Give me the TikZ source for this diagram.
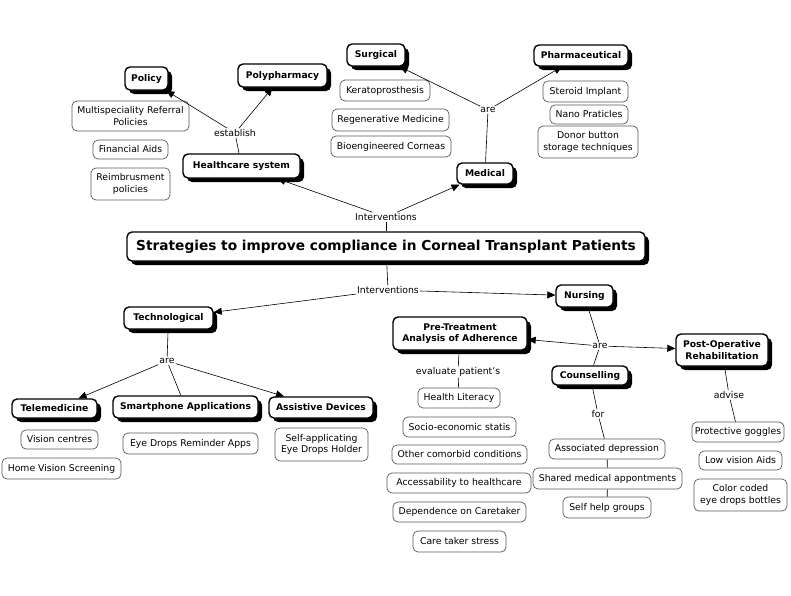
\documentclass[tikz,border=0pt]{standalone}
\usepackage{fontspec}
\setmainfont{DejaVu Sans}
\usetikzlibrary{arrows.meta,shadows}
\tikzset{
  sz/.style 2 args={minimum width=#1pt, minimum height=#2pt},
  concept/.style={draw=black, line width=1.4pt, rounded corners=5pt, fill=white,
    font=\bfseries\fontsize{9.2}{11.5}\selectfont, align=center, inner sep=2pt,
    drop shadow={shadow xshift=4pt, shadow yshift=-4pt, fill=black, opacity=1}},
  title/.style={concept, font=\bfseries\fontsize{13.7}{16}\selectfont},
  item/.style={draw=black!65, line width=0.7pt, rounded corners=5pt, fill=white,
    font=\fontsize{9.3}{11.5}\selectfont, align=center, inner sep=2pt},
  lbl/.style={fill=white, font=\fontsize{9.3}{11.5}\selectfont, inner sep=1pt},
  link/.style={draw=black, line width=0.6pt},
  arr/.style={link, -{Triangle[length=8pt,width=7pt]}}
}
\begin{document}
\begin{tikzpicture}[x=1pt,y=-1pt]
\fill[white] (0,0) rectangle (791,595);
\useasboundingbox (0,0) rectangle (791,595);

% top-left cluster
\node[concept, sz={43}{23}] (policy) at (146.5,78.5) {Policy};
\node[concept, sz={89}{23}] (poly) at (282.5,75.5) {Polypharmacy};
\node[item, sz={117}{30}] (multi) at (130.5,116) {Multispeciality Referral\\Policies};
\node[item, sz={75}{19}] (fin) at (130.5,149.5) {Financial Aids};
\node[item, sz={79}{32}] (reimb) at (130.5,184) {Reimbrusment\\policies};
\node[concept, sz={117}{24}] (health) at (241.5,166) {Healthcare system};
\node[lbl] (establish) at (235,133) {establish};

% top-right cluster
\node[concept, sz={58}{22}] (surg) at (376,55) {Surgical};
\node[concept, sz={94}{21}] (pharma) at (581,55.5) {Pharmaceutical};
\node[item, sz={90}{21}] (kerato) at (385,90.5) {Keratoprosthesis};
\node[item, sz={117}{22}] (regen) at (390.5,120) {Regenerative Medicine};
\node[item, sz={120}{21}] (bioeng) at (391,146.5) {Bioengineered Corneas};
\node[item, sz={85}{21}] (steroid) at (585.5,91.5) {Steroid Implant};
\node[item, sz={78}{19}] (nano) at (589,114.5) {Nano Praticles};
\node[item, sz={100}{32}] (donor) at (588,142) {Donor button\\storage techniques};
\node[concept, sz={56}{21}] (medical) at (485,173.5) {Medical};
\node[lbl] (are1) at (488,110) {are};

% centre
\node[lbl] (int1) at (386,217) {Interventions};
\node[title, sz={518}{29}] (main) at (386,246.5) {Strategies to improve compliance in Corneal Transplant Patients};
\node[lbl] (int2) at (388,290) {Interventions};

% bottom-left cluster
\node[concept, sz={57}{22}] (nursing) at (584.5,296) {Nursing};
\node[concept, sz={89}{22}] (tech) at (168.5,318) {Technological};
\node[lbl] (are2) at (167,361) {are};
\node[concept, sz={85}{19}] (tele) at (54.5,408.5) {Telemedicine};
\node[concept, sz={145}{22}] (smart) at (185.5,407) {Smartphone Applications};
\node[concept, sz={104}{21}] (assist) at (321,407.5) {Assistive Devices};
\node[item, sz={77}{19}] (vision) at (59.5,439.5) {Vision centres};
\node[item, sz={119}{21}] (home) at (61.5,468.5) {Home Vision Screening};
\node[item, sz={135}{21}] (eyedrops) at (190.5,443.5) {Eye Drops Reminder Apps};
\node[item, sz={93}{33}] (selfapp) at (321.5,444.5) {Self-applicating\\Eye Drops Holder};

% bottom-right cluster
\node[concept, sz={134}{33}] (pre) at (460,333.5) {Pre-Treatment\\Analysis of Adherence};
\node[lbl] (are3) at (600,346) {are};
\node[concept, sz={92}{32}] (post) at (722,350) {Post-Operative\\Rehabilitation};
\node[concept, sz={76}{19}] (couns) at (590,375.5) {Counselling};
\node[lbl] (evaluate) at (458,372) {evaluate patient's};
\node[lbl] (for) at (598,414) {for};
\node[lbl] (advise) at (729,395) {advise};
\node[item, sz={82}{20}] (hl) at (459,398) {Health Literacy};
\node[item, sz={113}{20}] (socio) at (459.5,427) {Socio-economic statis};
\node[item, sz={135}{19}] (other) at (459.5,454.5) {Other comorbid conditions};
\node[item, sz={144}{20}] (access) at (459,483) {Accessability to healthcare};
\node[item, sz={133}{20}] (dep) at (459.5,512) {Dependence on Caretaker};
\node[item, sz={93}{21}] (stress) at (459.5,541.5) {Care taker stress};
\node[item, sz={116}{20}] (assoc) at (607,449) {Associated depression};
\node[item, sz={149}{21}] (shared) at (607.5,478.5) {Shared medical appontments};
\node[item, sz={88}{21}] (selfhelp) at (607,507.5) {Self help groups};
\node[item, sz={92}{20}] (prot) at (738,432) {Protective goggles};
\node[item, sz={83}{19}] (low) at (740.5,460.5) {Low vision Aids};
\node[item, sz={93}{32}] (color) at (740.5,495) {Color coded\\eye drops bottles};

% connectors
\draw[link] (health) -- (establish);
\draw[arr] (establish) -- (policy);
\draw[arr] (establish) -- (poly);
\draw[link] (medical) -- (are1);
\draw[arr] (are1) -- (surg);
\draw[arr] (are1) -- (pharma);
\draw[link] (main) -- (int1);
\draw[arr] (int1) -- (health);
\draw[arr] (int1) -- (medical);
\draw[link] (main) -- (int2);
\draw[arr] (int2) -- (tech);
\draw[arr] (int2) -- (nursing);
\draw[link] (tech) -- (are2);
\draw[arr] (are2) -- (tele);
\draw[link] (are2) -- (smart);
\draw[arr] (are2) -- (assist);
\draw[link] (nursing) -- (are3);
\draw[arr] (are3) -- (pre);
\draw[arr] (are3) -- (post);
\draw[link] (are3) -- (couns);
\draw[link] (pre) -- (evaluate);
\draw[link] (evaluate) -- (hl);
\draw[link] (couns) -- (for);
\draw[link] (for) -- (assoc);
\draw[link] (assoc) -- (shared);
\draw[link] (shared) -- (selfhelp);
\draw[link] (post) -- (advise);
\draw[link] (advise) -- (prot);
\end{tikzpicture}
\end{document}
